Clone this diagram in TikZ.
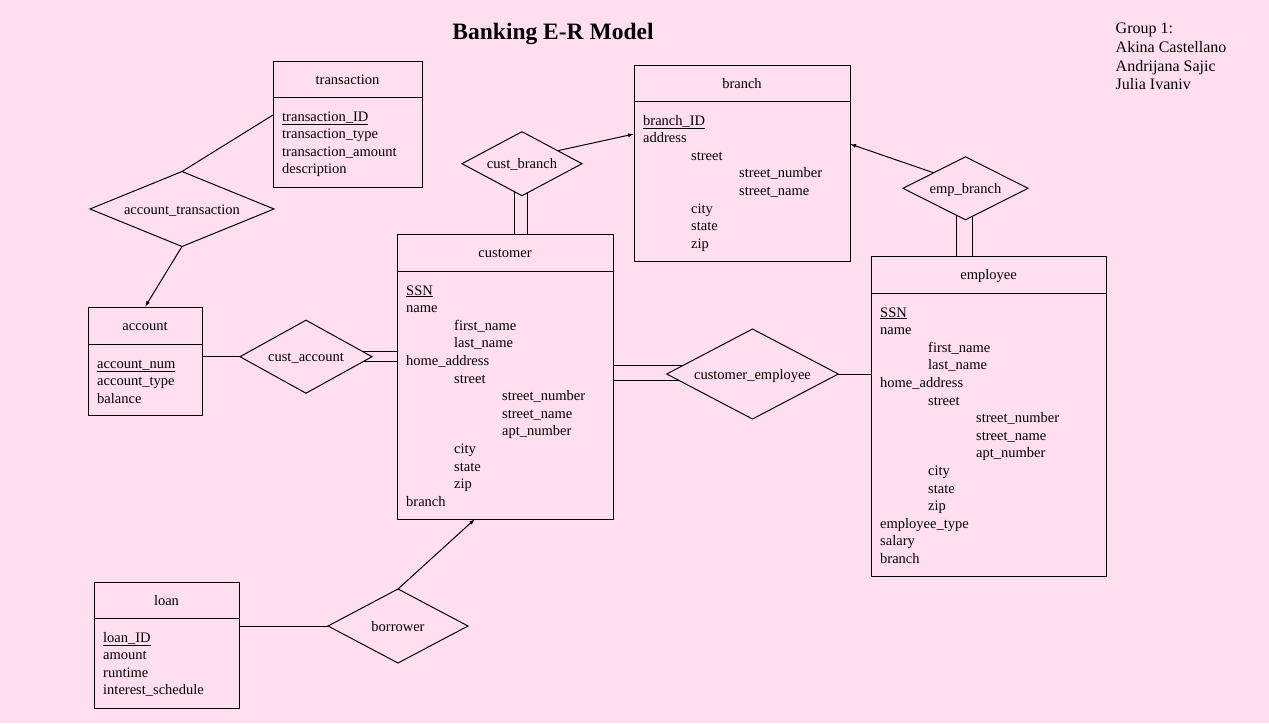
\documentclass[tikz,border=0pt]{standalone}
\usepackage{fontspec}
\setmainfont{Liberation Serif}
\usetikzlibrary{
  arrows.meta,
  positioning,
  shapes.geometric
}
\definecolor{bgpink}{RGB}{255,223,239}
\tikzset{
  head/.style={draw, line width=1pt, outer sep=0pt, inner sep=0pt,
    text height=10.5pt, text depth=0pt, font=\fontsize{14.5}{17.6}\selectfont},
  body/.style={draw, line width=1pt, outer sep=0pt, inner sep=0pt},
  attrs/.style={anchor=north west, align=left, inner xsep=9pt, inner ysep=11.5pt,
    font=\fontsize{14.5}{17.6}\selectfont},
  rel/.style={draw, diamond, aspect=2, line width=1pt, inner sep=0pt, outer sep=0pt,
    text height=10.5pt, text depth=0pt, font=\fontsize{14.5}{17.6}\selectfont},
  link/.style={line width=1pt},
  arr/.style={line width=1pt, -{Latex[length=6pt,width=4pt]}}
}
\newcommand{\ind}{\hspace*{48pt}}
\newcommand{\pkey}[1]{\rule{0pt}{12.3pt}\underline{#1}}

\begin{document}
\begin{tikzpicture}[x=1pt, y=-1pt]
        \path[use as bounding box, fill=bgpink] (0,0) rectangle (1269,723);

        \node[font=\fontsize{23.5}{28}\selectfont\bfseries, anchor=base] (title) at (553,39.5) {Banking E-R Model};
        \node[font=\fontsize{16}{18.7}\selectfont, align=left, anchor=north west, inner sep=0pt] (group) at (1115.5,23)
          {Group 1:\\Akina Castellano\\Andrijana Sajic\\Julia Ivaniv};

        \node[head, minimum width=149pt, minimum height=36pt] (transaction) at (347.5,79) {transaction};
        \node[body, minimum width=149pt, minimum height=90pt, below=0pt of transaction] (transaction body) {};
        \node[attrs] (transaction attrs) at (transaction body.north west)
          {\pkey{transaction\_ID}\\transaction\_type\\transaction\_amount\\description};

        \node[head, minimum width=114pt, minimum height=37pt] (account) at (145,325.5) {account};
        \node[body, minimum width=114pt, minimum height=71pt, below=0pt of account] (account body) {};
        \node[attrs] (account attrs) at (account body.north west)
          {\pkey{account\_num}\\account\_type\\balance};

        \node[head, minimum width=216pt, minimum height=37pt] (customer) at (505,252.5) {customer};
        \node[body, minimum width=216pt, minimum height=248pt, below=0pt of customer] (customer body) {};
        \node[attrs] (customer attrs) at (customer body.north west)
          {\pkey{SSN}\\name\\\ind first\_name\\\ind last\_name\\home\_address\\\ind street\\
           \ind\ind street\_number\\\ind\ind street\_name\\\ind\ind apt\_number\\
           \ind city\\\ind state\\\ind zip\\branch};

        \node[head, minimum width=216pt, minimum height=36pt] (branch) at (742,83) {branch};
        \node[body, minimum width=216pt, minimum height=160pt, below=0pt of branch] (branch body) {};
        \node[attrs] (branch attrs) at (branch body.north west)
          {\pkey{branch\_ID}\\address\\\ind street\\\ind\ind street\_number\\\ind\ind street\_name\\
           \ind city\\\ind state\\\ind zip};

        \node[head, minimum width=235pt, minimum height=37pt] (employee) at (988.5,274.5) {employee};
        \node[body, minimum width=235pt, minimum height=283pt, below=0pt of employee] (employee body) {};
        \node[attrs] (employee attrs) at (employee body.north west)
          {\pkey{SSN}\\name\\\ind first\_name\\\ind last\_name\\home\_address\\\ind street\\
           \ind\ind street\_number\\\ind\ind street\_name\\\ind\ind apt\_number\\
           \ind city\\\ind state\\\ind zip\\employee\_type\\salary\\branch};

        \node[head, minimum width=145pt, minimum height=36pt] (loan) at (166.5,600) {loan};
        \node[body, minimum width=145pt, minimum height=90pt, below=0pt of loan] (loan body) {};
        \node[attrs] (loan attrs) at (loan body.north west)
          {\pkey{loan\_ID}\\amount\\runtime\\interest\_schedule};

        \node[rel, minimum width=184pt, minimum height=75pt] (acct_trans) at (182,209) {account\_transaction};
        \node[rel, minimum width=132pt, minimum height=73pt] (cust_account) at (306,356.7) {cust\_account};
        \node[rel, minimum width=120pt, minimum height=64pt] (cust_branch) at (522,163.7) {cust\_branch};
        \node[rel, minimum width=125pt, minimum height=63pt] (emp_branch) at (965.5,188.3) {emp\_branch};
        \node[rel, minimum width=171.6pt, minimum height=90pt] (cust_emp) at (752.5,374) {customer\_employee};
        \node[rel, minimum width=140pt, minimum height=74pt] (borrower) at (398,626) {borrower};

	\draw[link] (acct_trans.north) -- ([yshift=27pt]transaction body.west);
	\draw[arr] (acct_trans.south) -- (account.north);
	\draw[link] (cust_account.west -| account body.east) -- (cust_account.west);
	\draw[link] (cust_account.5) -- (cust_account.5 -| customer body.west);
	\draw[link] (cust_account.-5) -- (cust_account.-5 -| customer body.west);
	\draw[link] (cust_branch.254.6) -- (cust_branch.254.6 |- customer.north);
	\draw[link] (cust_branch.281.1) -- (cust_branch.281.1 |- customer.north);
	\draw[arr] (cust_branch.20) -- ([yshift=47pt]branch body.west);
	\draw[arr] (emp_branch.154) -- ([yshift=37pt]branch body.east);
	\draw[link] (emp_branch.252) -- (emp_branch.252 |- employee.north);
	\draw[link] (emp_branch.285.8) -- (emp_branch.285.8 |- employee.north);
	\draw[link] (cust_emp.173.5 -| customer body.east) -- (cust_emp.173.5);
	\draw[link] (cust_emp.185.5 -| customer body.east) -- (cust_emp.185.5);
	\draw[link] (cust_emp.east) -- (cust_emp.east -| employee body.west);
	\draw[link] (loan body.east |- borrower.west) -- (borrower.west);
	\draw[arr] (borrower.north) -- ([xshift=-30pt]customer body.south);
\end{tikzpicture}
\end{document}
